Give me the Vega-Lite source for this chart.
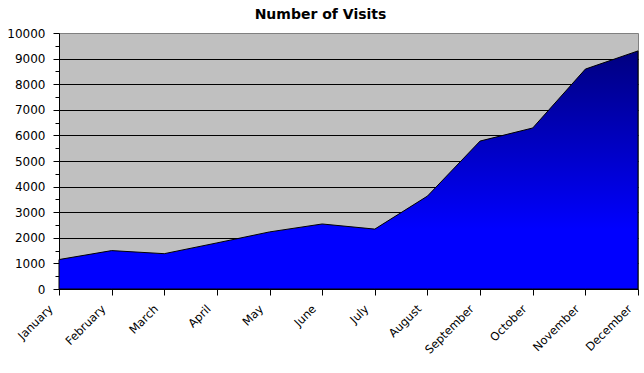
{
  "$schema": "https://vega.github.io/schema/vega-lite/v6.json",
  "width": 579,
  "height": 256,
  "autosize": {"type": "none"},
  "padding": {"left": 59, "top": 33, "right": 6, "bottom": 84},
  "background": "white",
  "title": {
    "text": "Number of Visits",
    "font": "DejaVu Sans",
    "fontSize": 14,
    "fontWeight": "bold",
    "color": "black",
    "anchor": "middle",
    "dx": -28,
    "offset": 5
  },
  "config": {
    "view": {"fill": "#C0C0C0", "stroke": "#808080", "strokeWidth": 1}
  },
  "data": {
    "values": [
      {"month": "January", "visits": 1150},
      {"month": "February", "visits": 1500},
      {"month": "March", "visits": 1380},
      {"month": "April", "visits": 1800},
      {"month": "May", "visits": 2230},
      {"month": "June", "visits": 2540},
      {"month": "July", "visits": 2340},
      {"month": "August", "visits": 3630},
      {"month": "September", "visits": 5780},
      {"month": "October", "visits": 6290},
      {"month": "November", "visits": 8590},
      {"month": "December", "visits": 9300}
    ]
  },
  "mark": {
    "type": "area",
    "interpolate": "linear",
    "stroke": "black",
    "strokeWidth": 1,
    "color": {
      "gradient": "linear",
      "x1": 0, "y1": 0, "x2": 0, "y2": 1,
      "stops": [
        {"offset": 0, "color": "#00007F"},
        {"offset": 0.75, "color": "#0000FF"},
        {"offset": 1, "color": "#0000FF"}
      ]
    }
  },
  "encoding": {
    "x": {
      "field": "month",
      "type": "ordinal",
      "sort": null,
      "scale": {"type": "point", "padding": 0},
      "axis": {
        "title": null,
        "labelAngle": -45,
        "labelAlign": "right",
        "labelBaseline": "middle",
        "labelFont": "DejaVu Sans",
        "labelFontSize": 11.5,
        "labelColor": "black",
        "labelPadding": 12,
        "labelOffset": -8,
        "labelBound": false,
        "labelOverlap": false,
        "tickColor": "black",
        "tickSize": 6,
        "domainColor": "black",
        "grid": false
      }
    },
    "y": {
      "field": "visits",
      "type": "quantitative",
      "scale": {"domain": [0, 10000], "nice": false},
      "axis": {
        "title": null,
        "values": [0, 500, 1000, 1500, 2000, 2500, 3000, 3500, 4000, 4500, 5000, 5500, 6000, 6500, 7000, 7500, 8000, 8500, 9000, 9500, 10000],
        "format": "d",
        "labelExpr": "datum.value % 1000 === 0 ? datum.label : ''",
        "labelFont": "DejaVu Sans",
        "labelFontSize": 12,
        "labelColor": "black",
        "labelPadding": 8,
        "tickColor": "black",
        "tickSize": {"condition": {"test": "datum.value % 1000 !== 0", "value": 4}, "value": 6},
        "domainColor": "black",
        "grid": true,
        "gridColor": "black",
        "gridWidth": 1,
        "gridOpacity": {"condition": {"test": "datum.value % 1000 === 0 && datum.value > 0 && datum.value < 10000", "value": 1}, "value": 0}
      }
    }
  }
}
